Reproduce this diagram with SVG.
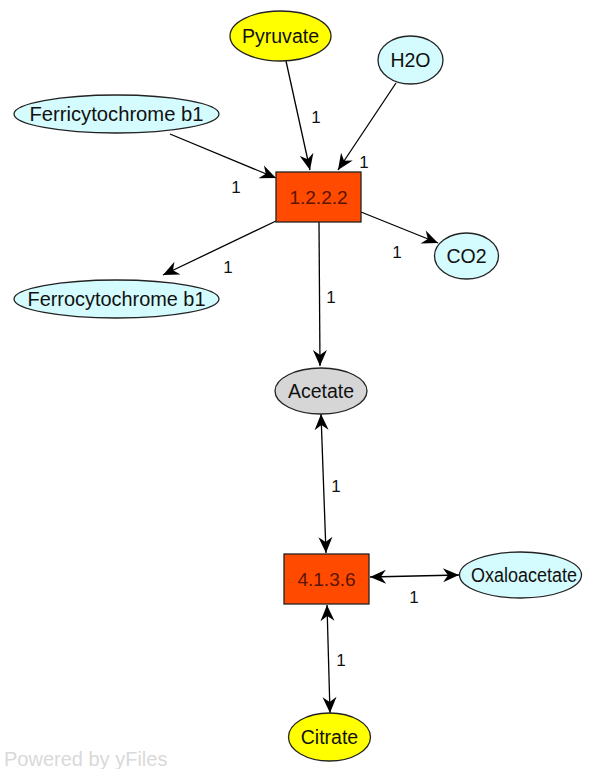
<svg xmlns="http://www.w3.org/2000/svg" width="595" height="769" viewBox="0 0 595 769">
  <defs>
    <marker id="arrow" viewBox="-17 -8 18 16" refX="0" refY="0" markerWidth="18" markerHeight="16" markerUnits="userSpaceOnUse" orient="auto-start-reverse">
      <path d="M0,0 L-16,-7 L-11,0 L-16,7 Z" fill="#000"/>
    </marker>
    <style>
      .node-text { font-family: "Liberation Sans", Arial, sans-serif; font-size: 19.5px; fill: #111; text-anchor: middle; dominant-baseline: central; }
      .enzyme-text { font-family: "Liberation Sans", Arial, sans-serif; font-size: 19px; fill: #5a1500; text-anchor: middle; dominant-baseline: central; }
      .cyan { fill: #d4fbfd; stroke: #222; stroke-width: 1.3; }
      .yellow { fill: #ffff00; stroke: #222; stroke-width: 1.3; }
      .grey { fill: #d6d6d6; stroke: #222; stroke-width: 1.3; }
      .enzyme { fill: #ff4a00; stroke: #222; stroke-width: 1.3; }
      .edge { stroke: #000; stroke-width: 1.3; fill: none; }
      .edge-label { font-family: "Liberation Sans", Arial, sans-serif; font-size: 17px; fill: #111; text-anchor: middle; dominant-baseline: central; }
      .credit { font-family: "Liberation Sans", Arial, sans-serif; font-size: 20px; fill: #d9d9d9; }
    </style>
  </defs>

  <rect width="595" height="769" fill="#fff"/>

  <!-- connectors -->
  <g id="edges">
    <line class="edge" x1="286" y1="61" x2="310" y2="170" marker-end="url(#arrow)"/>
    <line class="edge" x1="396" y1="83" x2="338" y2="170" marker-end="url(#arrow)"/>
    <line class="edge" x1="170" y1="134" x2="276" y2="178" marker-end="url(#arrow)"/>
    <line class="edge" x1="276" y1="221" x2="163" y2="275" marker-end="url(#arrow)"/>
    <line class="edge" x1="361" y1="212" x2="438" y2="243" marker-end="url(#arrow)"/>
    <line class="edge" x1="319" y1="222" x2="320" y2="366" marker-end="url(#arrow)"/>
    <line class="edge" x1="321" y1="414" x2="326" y2="553" marker-start="url(#arrow)" marker-end="url(#arrow)"/>
    <line class="edge" x1="370" y1="577" x2="459" y2="575" marker-start="url(#arrow)" marker-end="url(#arrow)"/>
    <line class="edge" x1="327" y1="605" x2="330" y2="713" marker-start="url(#arrow)" marker-end="url(#arrow)"/>

    <text class="edge-label" x="316" y="117">1</text>
    <text class="edge-label" x="364" y="162">1</text>
    <text class="edge-label" x="236" y="187">1</text>
    <text class="edge-label" x="228" y="267">1</text>
    <text class="edge-label" x="397" y="252">1</text>
    <text class="edge-label" x="331" y="297">1</text>
    <text class="edge-label" x="336" y="486">1</text>
    <text class="edge-label" x="414" y="597">1</text>
    <text class="edge-label" x="341" y="660">1</text>
  </g>

  <!-- nodes -->
  <g id="pyruvate">
    <ellipse class="yellow" cx="280.5" cy="36" rx="50.5" ry="25"/>
    <text class="node-text" x="280.5" y="36" textLength="77" lengthAdjust="spacingAndGlyphs">Pyruvate</text>
  </g>
  <g id="h2o">
    <ellipse class="cyan" cx="410.5" cy="60" rx="32.5" ry="24"/>
    <text class="node-text" x="410.5" y="60">H2O</text>
  </g>
  <g id="ferricytochrome-b1">
    <ellipse class="cyan" cx="116.5" cy="114" rx="102.5" ry="19"/>
    <text class="node-text" x="116.5" y="114" textLength="174" lengthAdjust="spacingAndGlyphs">Ferricytochrome b1</text>
  </g>
  <g id="ec-1-2-2-2">
    <rect class="enzyme" x="276" y="172" width="85" height="50"/>
    <text class="enzyme-text" x="318.5" y="197">1.2.2.2</text>
  </g>
  <g id="co2">
    <ellipse class="cyan" cx="466.5" cy="256" rx="32" ry="23"/>
    <text class="node-text" x="466.5" y="256">CO2</text>
  </g>
  <g id="ferrocytochrome-b1">
    <ellipse class="cyan" cx="116.5" cy="299" rx="102.5" ry="19"/>
    <text class="node-text" x="116.5" y="299" textLength="178" lengthAdjust="spacingAndGlyphs">Ferrocytochrome b1</text>
  </g>
  <g id="acetate">
    <ellipse class="grey" cx="321" cy="391" rx="46" ry="23"/>
    <text class="node-text" x="321" y="391">Acetate</text>
  </g>
  <g id="ec-4-1-3-6">
    <rect class="enzyme" x="284" y="554" width="85" height="50"/>
    <text class="enzyme-text" x="326.5" y="579">4.1.3.6</text>
  </g>
  <g id="oxaloacetate">
    <ellipse class="cyan" cx="520.5" cy="575" rx="61" ry="23"/>
    <text class="node-text" x="524" y="575" textLength="106" lengthAdjust="spacingAndGlyphs">Oxaloacetate</text>
  </g>
  <g id="citrate">
    <ellipse class="yellow" cx="329.5" cy="737" rx="41" ry="24"/>
    <text class="node-text" x="329.5" y="737">Citrate</text>
  </g>

  <text class="credit" x="4" y="766">Powered by yFiles</text>
</svg>
